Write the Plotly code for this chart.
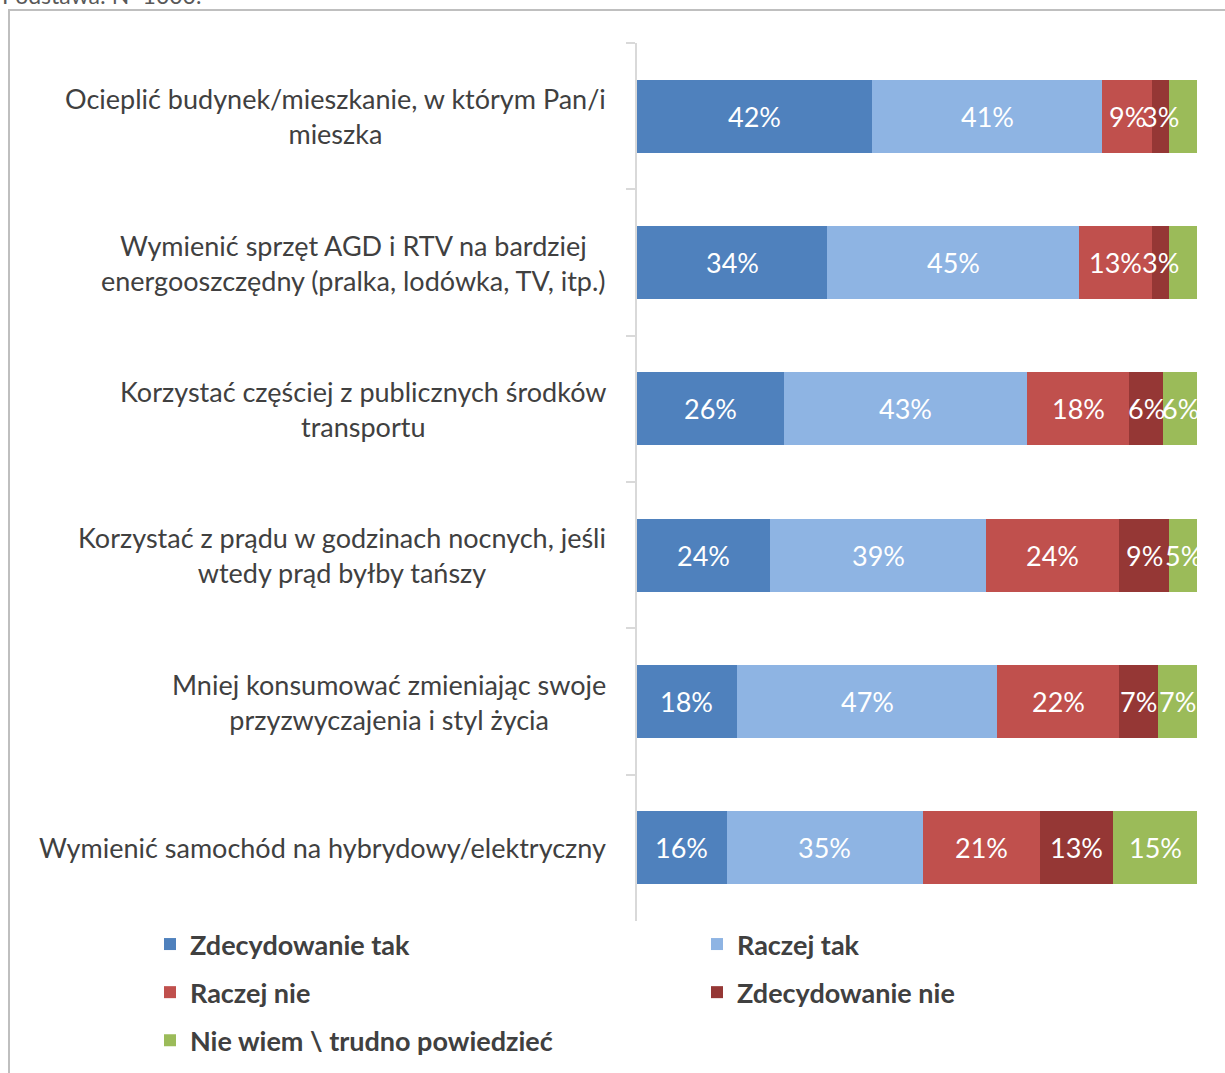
import plotly.graph_objects as go

categories = [
    "Ocieplić budynek/mieszkanie, w którym Pan/i<br>mieszka",
    "Wymienić sprzęt AGD i RTV na bardziej<br>energooszczędny (pralka, lodówka, TV, itp.)",
    "Korzystać częściej z publicznych środków<br>transportu",
    "Korzystać z prądu w godzinach nocnych, jeśli<br>wtedy prąd byłby tańszy",
    "Mniej konsumować zmieniając swoje<br>przyzwyczajenia i styl życia",
    "Wymienić samochód na hybrydowy/elektryczny",
]
zdecydowanie_tak = [42, 34, 26, 24, 18, 16]
raczej_tak = [41, 45, 43, 39, 47, 35]
raczej_nie = [9, 13, 18, 24, 22, 21]
zdecydowanie_nie = [3, 3, 6, 9, 7, 13]
nie_wiem = [5, 5, 6, 5, 7, 15]
nie_wiem_label_shown = [False, False, True, True, True, True]

series = [
    ("Zdecydowanie tak", zdecydowanie_tak, "#4F81BD", "legend", None),
    ("Raczej tak", raczej_tak, "#8EB4E3", "legend2", None),
    ("Raczej nie", raczej_nie, "#C0504D", "legend", None),
    ("Zdecydowanie nie", zdecydowanie_nie, "#953735", "legend2", None),
    ("Nie wiem \\ trudno powiedzieć", nie_wiem, "#9BBB59", "legend", nie_wiem_label_shown),
]

W, H = 1225, 1073
L, R, T, B = 637, 28, 43, 152
pw = W - L - R
ph = H - T - B

def px_x(x):
    return (x - L) / pw

def px_y(y):
    return (H - B - y) / ph

fig = go.Figure()
for name, vals, color, leg, shown in series:
    fig.add_trace(go.Bar(
        y=categories, x=vals, name=name, orientation="h",
        marker=dict(color=color, line=dict(width=0)),
        legend=leg, legendgroup=name, hoverinfo="skip",
    ))

# data labels on top of all bars (100% stacked positions)
totals = [sum(s[1][j] for s in series) for j in range(len(categories))]
cum = [0.0] * len(categories)
for name, vals, color, leg, shown in series:
    for j, v in enumerate(vals):
        share = 100.0 * v / totals[j]
        if shown is None or shown[j]:
            fig.add_annotation(
                x=cum[j] + share / 2, xref="x", y=categories[j], yref="y",
                text=f"{v}%", showarrow=False,
                font=dict(family="Lato", size=27, color="white"),
            )
        cum[j] += share

for c in categories:
    fig.add_annotation(
        x=px_x(608), xref="paper", y=c, yref="y", xanchor="right",
        align="center", showarrow=False, text=c,
        font=dict(family="Lato", size=27, color="#404040"),
    )

fig.add_annotation(
    x=px_x(0), xref="paper", y=px_y(11), yref="paper", xanchor="left", yanchor="bottom",
    showarrow=False, text="Podstawa: N=1000.",
    font=dict(family="Lato", size=23, color="#595959"),
)

fig.add_shape(type="rect", xref="paper", yref="paper",
              x0=px_x(9), x1=px_x(1240), y0=px_y(10), y1=px_y(1090),
              line=dict(color="#BFBFBF", width=2), fillcolor="rgba(0,0,0,0)", layer="below")

legend_common = dict(
    orientation="v", yanchor="top", xanchor="left",
    font=dict(family="Lato", size=27, color="#404040", weight="bold"),
    bgcolor="rgba(0,0,0,0)", traceorder="grouped", tracegroupgap=10,
    itemwidth=30,
)

fig.update_layout(
    width=W, height=H,
    margin=dict(l=L, r=R, t=T, b=B, autoexpand=False),
    plot_bgcolor="white", paper_bgcolor="white",
    barmode="stack", barnorm="percent", bargap=0.5,
    showlegend=True,
    legend=dict(x=px_x(150), y=px_y(920), **legend_common),
    legend2=dict(x=px_x(697), y=px_y(920), **legend_common),
    xaxis=dict(range=[0, 100], showgrid=False, zeroline=False, showticklabels=False,
               showline=False, fixedrange=True),
    yaxis=dict(autorange="reversed", showticklabels=False, showgrid=False,
               showline=True, linecolor="#D9D9D9", linewidth=2,
               ticks="outside", tickson="boundaries", ticklen=9,
               tickcolor="#D9D9D9", tickwidth=2),
)

fig.write_html("out.html", config={"displayModeBar": False},
               post_script="document.body.style.margin='0px';document.body.style.overflow='hidden';")
